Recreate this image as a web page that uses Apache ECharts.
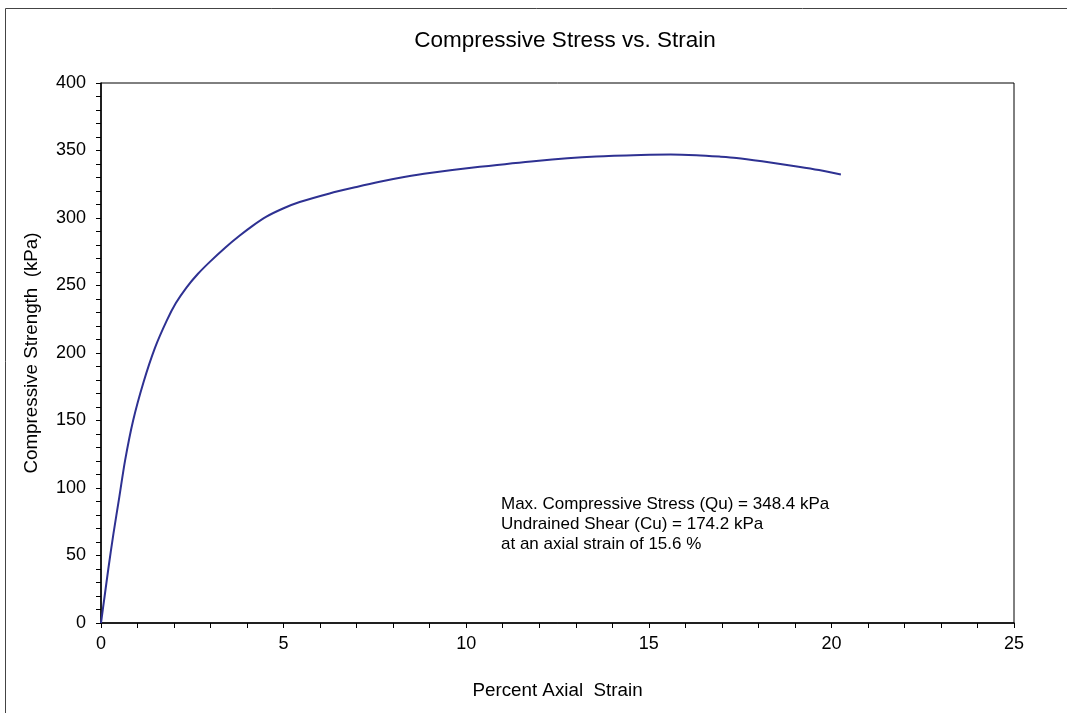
<!DOCTYPE html>
<html>
<head>
<meta charset="utf-8">
<script src="https://cdn.jsdelivr.net/npm/echarts@6/dist/echarts.min.js"></script>
<style>
  html, body { margin: 0; padding: 0; background: #fff; }
  #chart { width: 1067px; height: 713px; }
</style>
</head>
<body>
<div id="chart"></div>
<script>
// percent axial strain (x) and compressive stress in kPa (y)
var strain = [0, 0.1, 0.2, 0.34, 0.5, 0.66, 0.88, 1.16, 1.48, 1.8, 2.05, 2.34, 2.65, 2.98, 3.4, 3.8,
   4.15, 4.53, 5.0, 5.44, 6.26, 7.0, 7.63, 8.3, 9.0, 10.37, 11.92, 13.56, 15.02, 15.6, 16.3,
   16.93, 17.4, 18.1, 19.1, 19.66, 20.26];
var stress = [0, 20, 40, 66, 93, 120.5, 150, 178, 204, 224, 237, 248.5, 258.5, 267.5, 278, 287,
   294.2, 301, 307.2, 311.8, 318.2, 323, 326.8, 330.3, 333.3, 337.9, 342.3, 345.5, 346.8, 347, 346.5,
   345.5, 344.5, 342, 338, 335.5, 332.2];

var noteLines = [
   "Max. Compressive Stress (Qu) = 348.4 kPa",
   "Undrained Shear (Cu) = 174.2 kPa",
   "at an axial strain of 15.6 %"
];

var font = "Liberation Sans, Arial, sans-serif";

var points = strain.map(function (s, i) { return [s, stress[i]]; });

var option = {
   backgroundColor: "#fff",
   animation: false,
   title: {
      text: "Compressive Stress vs. Strain",
      left: 560,
      top: 24,
      textAlign: "center",
      textStyle: { fontFamily: font, fontSize: 22.5, fontWeight: "normal", color: "#000" }
   },
   grid: {
      left: 101, right: 53, top: 83, bottom: 90,
      show: true, borderColor: "#000", borderWidth: 1
   },
   xAxis: {
      type: "value",
      min: 0, max: 25, interval: 5,
      name: "Percent Axial  Strain",
      nameLocation: "middle",
      nameGap: 58,
      nameTextStyle: { fontFamily: font, fontSize: 18.8, color: "#000" },
      axisLine: { lineStyle: { color: "#000", width: 1.5 } },
      axisTick: { show: true, inside: false, length: 5, lineStyle: { color: "#000" } },
      minorTick: { show: true, splitNumber: 5, length: 5, lineStyle: { color: "#000" } },
      axisLabel: { fontFamily: font, fontSize: 18, color: "#000", margin: 12 },
      splitLine: { show: false }
   },
   yAxis: {
      type: "value",
      min: 0, max: 400, interval: 50,
      name: "Compressive Strength  (kPa)",
      nameLocation: "middle",
      nameGap: 60,
      nameTextStyle: { fontFamily: font, fontSize: 18.8, color: "#000" },
      axisLine: { show: true, lineStyle: { color: "#000", width: 1.5 } },
      axisTick: { show: true, inside: false, length: 5, lineStyle: { color: "#000" } },
      minorTick: { show: true, splitNumber: 5, length: 5, lineStyle: { color: "#000" } },
      axisLabel: { fontFamily: font, fontSize: 18, color: "#000", margin: 15 },
      splitLine: { show: false }
   },
   series: [
      {
         type: "line",
         data: points,
         smooth: 0.3,
         showSymbol: false,
         lineStyle: { color: "#2e3192", width: 2 }
      }
   ],
   graphic: [
      {
         type: "rect",
         shape: { x: 5.5, y: 8.5, width: 1100, height: 800 },
         style: { fill: "none", stroke: "#444", lineWidth: 1 },
         silent: true
      },
      {
         type: "text",
         left: 501,
         top: 494,
         style: {
            text: noteLines.join("\n"),
            font: "17px " + font,
            lineHeight: 20,
            fill: "#000"
         }
      }
   ]
};

var myChart = echarts.init(document.getElementById("chart"));
myChart.setOption(option);
</script>
</body>
</html>
